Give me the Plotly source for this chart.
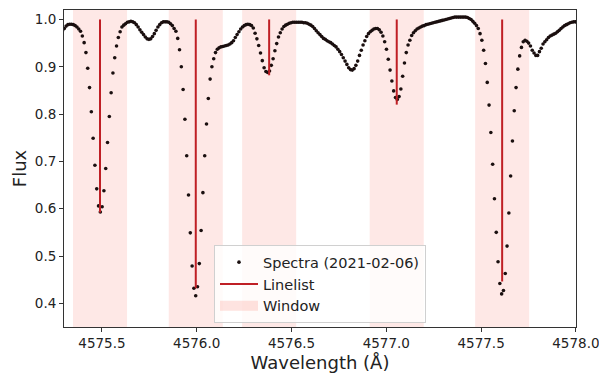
import numpy as np
import plotly.graph_objects as go

# Spectrum: uniform wavelength grid, flux values
WL_START = 4575.2923
WL_STEP = 0.009492
FLUX = [
    0.977, 0.981, 0.986, 0.989, 0.990, 0.990, 0.989, 0.987, 0.984, 0.980,
    0.975, 0.965, 0.951, 0.930, 0.897, 0.856, 0.805, 0.749, 0.692, 0.642,
    0.606, 0.593, 0.604, 0.638, 0.685, 0.740, 0.795, 0.845, 0.887, 0.919,
    0.944, 0.962, 0.974, 0.984, 0.988, 0.991, 0.994, 0.995, 0.996, 0.995,
    0.993, 0.989, 0.984, 0.978, 0.973, 0.968, 0.963, 0.959, 0.958, 0.959,
    0.964, 0.970, 0.977, 0.984, 0.989, 0.993, 0.995, 0.995, 0.995, 0.994,
    0.991, 0.987, 0.981, 0.975, 0.960, 0.936, 0.900, 0.852, 0.789, 0.712,
    0.629, 0.549, 0.479, 0.432, 0.416, 0.435, 0.484, 0.554, 0.634, 0.712,
    0.779, 0.833, 0.874, 0.900, 0.917, 0.930, 0.937, 0.940, 0.942, 0.943,
    0.944, 0.945, 0.946, 0.948, 0.951, 0.955, 0.962, 0.968, 0.974, 0.980,
    0.984, 0.987, 0.989, 0.990, 0.989, 0.987, 0.982, 0.971, 0.959, 0.945,
    0.929, 0.913, 0.898, 0.890, 0.888, 0.891, 0.903, 0.917, 0.934, 0.949,
    0.963, 0.972, 0.980, 0.985, 0.988, 0.990, 0.992, 0.993, 0.994, 0.994,
    0.994, 0.994, 0.994, 0.994, 0.993, 0.993, 0.992, 0.990, 0.988, 0.985,
    0.981, 0.976, 0.972, 0.968, 0.964, 0.960, 0.958, 0.955, 0.953, 0.951,
    0.948, 0.945, 0.942, 0.937, 0.932, 0.926, 0.919, 0.912, 0.905, 0.898,
    0.894, 0.893, 0.896, 0.903, 0.912, 0.924, 0.935, 0.946, 0.955, 0.964,
    0.970, 0.974, 0.977, 0.980, 0.981, 0.981, 0.978, 0.973, 0.965, 0.953,
    0.937, 0.916, 0.893, 0.870, 0.849, 0.835, 0.831, 0.837, 0.853, 0.880,
    0.908, 0.930, 0.946, 0.956, 0.966, 0.972, 0.976, 0.980, 0.982, 0.984,
    0.986, 0.987, 0.989, 0.990, 0.991, 0.992, 0.993, 0.994, 0.995, 0.996,
    0.997, 0.998, 0.999, 1.000, 1.001, 1.002, 1.003, 1.004, 1.005, 1.005,
    1.005, 1.005, 1.005, 1.005, 1.005, 1.004, 1.002, 1.000, 0.996, 0.992,
    0.987, 0.981, 0.970, 0.956, 0.935, 0.907, 0.867, 0.819, 0.761, 0.694,
    0.621, 0.550, 0.488, 0.442, 0.420, 0.427, 0.463, 0.521, 0.591, 0.669,
    0.743, 0.807, 0.856, 0.895, 0.923, 0.941, 0.953, 0.956, 0.954, 0.950,
    0.944, 0.935, 0.929, 0.924, 0.924, 0.932, 0.939, 0.948, 0.953, 0.957,
    0.962, 0.965, 0.967, 0.969, 0.971, 0.974, 0.977, 0.981, 0.984, 0.987,
    0.989, 0.991, 0.993, 0.994, 0.995, 0.995, 0.994,
]

# Line list: wavelength and line depth (flux at line bottom)
LINE_WL = [4575.490, 4575.995, 4576.382, 4577.055, 4577.611]
LINE_BOTTOM = [0.592, 0.432, 0.882, 0.820, 0.446]
LINE_TOP = 1.0
WINDOW_HALF = 0.1425

X_TICKS = [4575.5, 4576.0, 4576.5, 4577.0, 4577.5, 4578.0]
Y_TICKS = [0.4, 0.5, 0.6, 0.7, 0.8, 0.9, 1.0]

WINDOW_FILL = "rgba(250,128,114,0.18)"

wl = WL_START + WL_STEP * np.arange(len(FLUX))

fig = go.Figure()

fig.add_trace(go.Scatter(
    x=wl, y=FLUX, mode="markers", name="Spectra (2021-02-06)",
    marker=dict(size=3.6, color="#1a0f0f", line=dict(width=0)),
    legendrank=1,
))

lx, ly = [], []
for w, b in zip(LINE_WL, LINE_BOTTOM):
    lx += [w, w, None]
    ly += [LINE_TOP, b, None]
fig.add_trace(go.Scatter(
    x=lx, y=ly, mode="lines", name="Linelist",
    line=dict(color="#bf1f25", width=2), legendrank=2,
))

# legend entry for the windows (patch-like thick line)
fig.add_trace(go.Scatter(
    x=[None], y=[None], mode="lines", name="Window",
    line=dict(color="rgba(250,128,114,0.22)", width=10), legendrank=3,
))

for w in LINE_WL:
    fig.add_shape(type="rect", xref="x", yref="paper",
                  x0=w - WINDOW_HALF, x1=w + WINDOW_HALF, y0=0, y1=1,
                  fillcolor=WINDOW_FILL, line=dict(width=0),
                  layer="below")

axis_common = dict(
    showline=True, linecolor="#333333", linewidth=1, mirror=True,
    ticks="outside", ticklen=4, tickwidth=1, tickcolor="#333333",
    showgrid=False, zeroline=False, ticklabeloverflow="allow",
    tickfont=dict(family="DejaVu Sans", size=13.5, color="#222222"),
)

fig.update_xaxes(range=[4575.3, 4578.0005], tickvals=X_TICKS, tickformat=".1f",
                 title=dict(text="Wavelength (Å)", font=dict(family="DejaVu Sans", size=18, color="#222222"), standoff=6),
                 **axis_common)
fig.update_yaxes(range=[0.35, 1.02], tickvals=Y_TICKS, tickformat=".1f",
                 title=dict(text="Flux", font=dict(family="DejaVu Sans", size=18, color="#222222"), standoff=3),
                 **axis_common)

fig.update_layout(
    width=599, height=374,
    margin=dict(l=64, r=23, t=10, b=47, autoexpand=False),
    plot_bgcolor="white", paper_bgcolor="white",
    showlegend=True,
    legend=dict(
        x=0.5, xanchor="center", y=0.135, yanchor="middle",
        bgcolor="rgba(255,255,255,0.8)", bordercolor="#d0d0d0", borderwidth=1,
        font=dict(family="DejaVu Sans", size=14.5, color="#222222"),
        tracegroupgap=0, itemwidth=38,
    ),
)

fig.write_html("out.html")
